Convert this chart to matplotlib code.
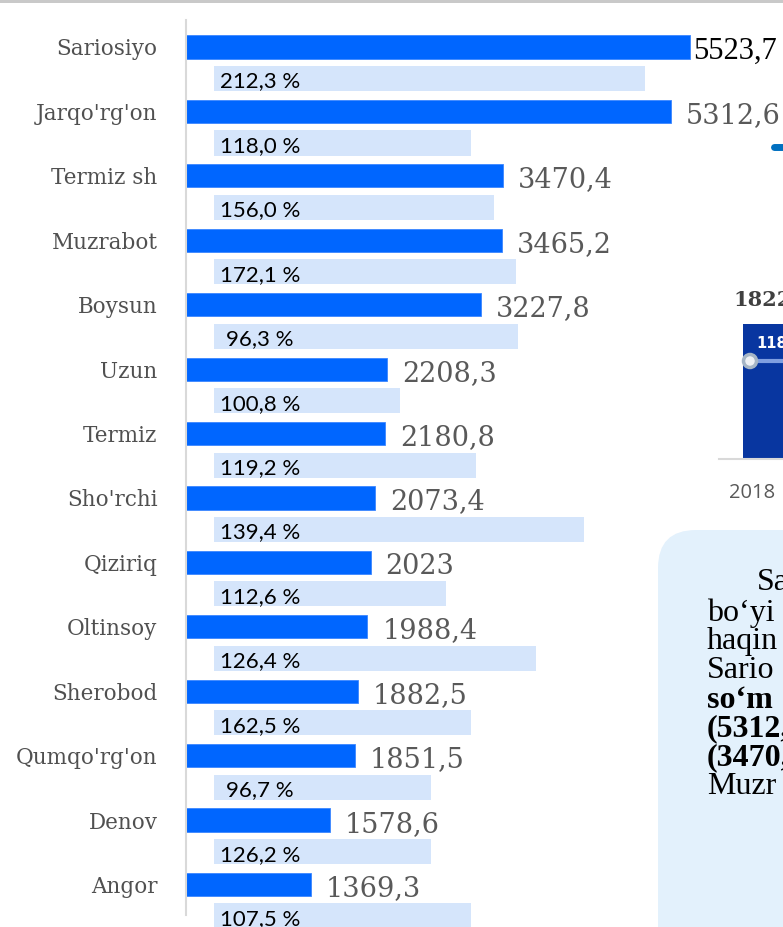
import numpy as np
import matplotlib.pyplot as plt
from matplotlib.patches import FancyBboxPatch, Rectangle, Circle

# === Data ===
districts = ["Sariosiyo", "Jarqo'rg'on", "Termiz sh", "Muzrabot", "Boysun", "Uzun",
             "Termiz", "Sho'rchi", "Qiziriq", "Oltinsoy", "Sherobod", "Qumqo'rg'on",
             "Denov", "Angor"]
volume = [5523.7, 5312.6, 3470.4, 3465.2, 3227.8, 2208.3, 2180.8, 2073.4,
          2023, 1988.4, 1882.5, 1851.5, 1578.6, 1369.3]
growth = [212.3, 118.0, 156.0, 172.1, 96.3, 100.8, 119.2, 139.4,
          112.6, 126.4, 162.5, 96.7, 126.2, 107.5]
# light boxes behind the growth rates (same units as volume)
growth_box_start = 312
growth_box_end = [5031, 3124, 3376, 3617, 3639, 2345, 3178, 4362,
                  2850, 3836, 3124, 2685, 2685, 3124]

W, H = 783, 927
fig = plt.figure(figsize=(W / 100, H / 100), dpi=100)

# === Background layer in pixel coordinates (cropped slide parts) ===
bg = fig.add_axes([0, 0, 1, 1], zorder=0)
bg.set_xlim(0, W)
bg.set_ylim(H, 0)
bg.axis('off')

bg.add_patch(Rectangle((0, 0), W, 3, color='#c9c9c9', lw=0))
bg.plot([774, 790], [147, 147], color='#0070c0', lw=5, solid_capstyle='round')

# small column chart on the right
bg.text(733, 300, "1822", fontsize=15, fontweight='bold', family='DejaVu Serif',
        color='#404040', va='center', ha='left')
bg.add_patch(Rectangle((743, 324), 60, 134, color='#0836a0', lw=0))
bg.plot([750, 790], [361, 361], color='#7f9fe0', lw=3)
bg.add_patch(Circle((750, 361), 6.5, facecolor='#eef1f4', edgecolor='#a6b6c6', lw=2.5, zorder=5))
bg.text(756, 343, "118", fontsize=10.5, fontweight='bold', color='white',
        family='DejaVu Sans', va='center', ha='left')
bg.plot([719, 790], [459, 459], color='#d9d9d9', lw=1.5)
bg.text(729, 493, "2018", fontsize=14.5, color='#595959', family='Open Sans',
        va='center', ha='left')

# text box
bg.add_patch(FancyBboxPatch((658, 530), 200, 450, boxstyle="round,pad=0,rounding_size=38",
                            facecolor='#e3f1fc', edgecolor='none'))
box_lines = [("Sa", 757, 583, 'normal'), ("bo\u2018yi", 707, 613, 'normal'),
             ("haqin", 707, 642, 'normal'), ("Sario", 707, 671, 'normal'),
             ("so\u2018m", 707, 700, 'bold'), ("(5312,6", 707, 729, 'bold'),
             ("(3470,4", 707, 758, 'bold'), ("Muzr", 707, 787, 'normal')]
for txt, x, y, w in box_lines:
    bg.text(x, y, txt, fontsize=23, family='Liberation Serif', fontweight=w,
            color='black', va='center', ha='left')

# === Main bar chart ===
px_per_unit = 504 / 5523.7
pitch = 64.42
top_px, bot_px = 20, 915
ax = fig.add_axes([186 / W, (H - bot_px) / H, 597 / W, (bot_px - top_px) / H], zorder=1)
ax.set_facecolor('none')
ax.set_xlim(0, 597 / px_per_unit)
ax.set_ylim((bot_px - 47) / pitch, (top_px - 47) / pitch)

y = np.arange(len(districts))
ax.barh(y, volume, height=0.36, color='#0066ff', edgecolor='#3b86ff', lw=0.6)
box_len = [e - growth_box_start for e in growth_box_end]
bars = ax.barh(y + 0.49, box_len, left=growth_box_start, height=0.39, color='#d5e5fb', lw=0)
for b in bars:
    b.set_clip_on(False)

for i, (v, g) in enumerate(zip(volume, growth)):
    label = f"{v:g}".replace('.', ',')
    if i == 0:
        ax.text(v + 35, i + 0.18, label, fontsize=22, family='Liberation Serif',
                color='black', va='baseline', ha='left')
    else:
        ax.text(v + 165, i + 0.18, label, fontsize=19.5, family='DejaVu Serif',
                color='#595959', va='baseline', ha='left')
    ax.text(811, i + 0.49 + 0.14, f"{g:.1f}".replace('.', ',') + " %", fontsize=16,
            family='Lato', color='black', va='baseline', ha='center')

ax.set_yticks(y)
ax.set_yticklabels(districts, family='DejaVu Serif', fontsize=15.5, color='#505050')
ax.set_xticks([])
ax.tick_params(left=False, bottom=False, pad=17)
for s in ['top', 'right', 'bottom']:
    ax.spines[s].set_visible(False)
ax.spines['left'].set_color('#d9d9d9')
ax.spines['left'].set_linewidth(1.5)

fig.savefig('out.png', dpi=100)
